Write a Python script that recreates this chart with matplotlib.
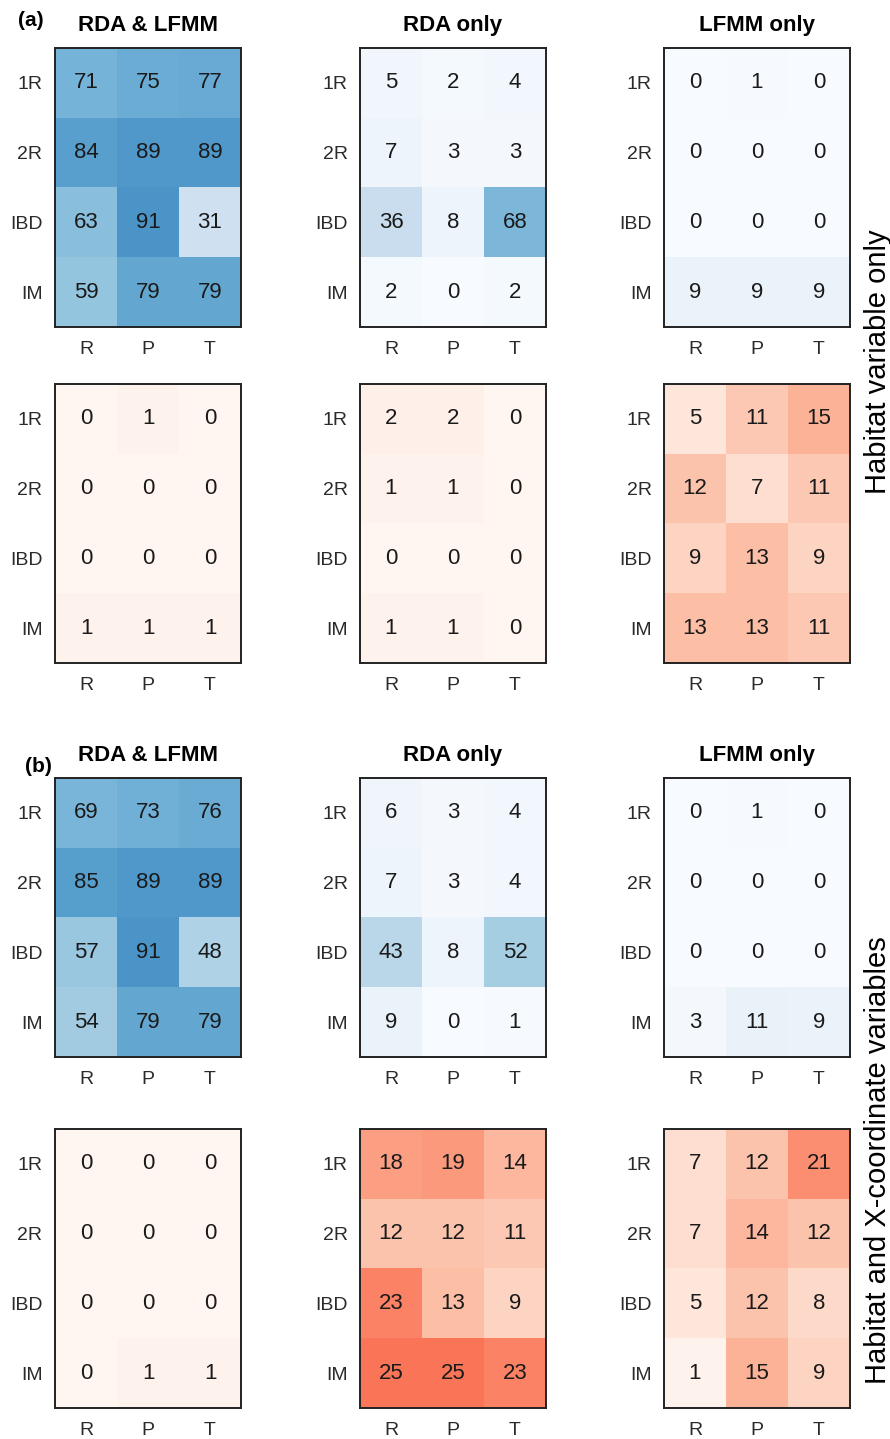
import matplotlib
matplotlib.use("Agg")
import matplotlib.pyplot as plt
import numpy as np

plt.rcParams['font.family'] = ['Liberation Sans', 'DejaVu Sans']

rows = ['1R', '2R', 'IBD', 'IM']
cols = ['R', 'P', 'T']
titles = ['RDA & LFMM', 'RDA only', 'LFMM only']

# (a) habitat variable only: true positives (blue) and false positives (red)
a_tp_both = [[71, 75, 77], [84, 89, 89], [63, 91, 31], [59, 79, 79]]
a_tp_rda = [[5, 2, 4], [7, 3, 3], [36, 8, 68], [2, 0, 2]]
a_tp_lfmm = [[0, 1, 0], [0, 0, 0], [0, 0, 0], [9, 9, 9]]
a_fp_both = [[0, 1, 0], [0, 0, 0], [0, 0, 0], [1, 1, 1]]
a_fp_rda = [[2, 2, 0], [1, 1, 0], [0, 0, 0], [1, 1, 0]]
a_fp_lfmm = [[5, 11, 15], [12, 7, 11], [9, 13, 9], [13, 13, 11]]

# (b) habitat and X-coordinate variables
b_tp_both = [[69, 73, 76], [85, 89, 89], [57, 91, 48], [54, 79, 79]]
b_tp_rda = [[6, 3, 4], [7, 3, 4], [43, 8, 52], [9, 0, 1]]
b_tp_lfmm = [[0, 1, 0], [0, 0, 0], [0, 0, 0], [3, 11, 9]]
b_fp_both = [[0, 0, 0], [0, 0, 0], [0, 0, 0], [0, 1, 1]]
b_fp_rda = [[18, 19, 14], [12, 12, 11], [23, 13, 9], [25, 25, 23]]
b_fp_lfmm = [[7, 12, 21], [7, 14, 12], [5, 12, 8], [1, 15, 9]]

grid = [
    [a_tp_both, a_tp_rda, a_tp_lfmm],
    [a_fp_both, a_fp_rda, a_fp_lfmm],
    [b_tp_both, b_tp_rda, b_tp_lfmm],
    [b_fp_both, b_fp_rda, b_fp_lfmm],
]

W, H = 890, 1439
fig = plt.figure(figsize=(W / 100, H / 100), dpi=100)

col_left = [55, 360, 664]
row_top = [48, 384, 778, 1129]
aw, ah = 186, 279

for r in range(4):
    blue = r % 2 == 0
    cmap = 'Blues' if blue else 'Reds'
    vmax = 140 if blue else 50
    for c in range(3):
        x0 = col_left[c]
        y0 = row_top[r]
        ax = fig.add_axes([x0 / W, 1 - (y0 + ah) / H, aw / W, ah / H])
        vals = np.array(grid[r][c])
        ax.imshow(vals, cmap=cmap, vmin=0, vmax=vmax, aspect='auto', alpha=0.92)
        for i in range(vals.shape[0]):
            for j in range(vals.shape[1]):
                ax.text(j, i, str(vals[i, j]), ha='center', va='center',
                        fontsize=16, color='#1a1a1a')
        ax.set_xticks(range(3))
        ax.set_xticklabels(cols)
        ax.set_yticks(range(4))
        ax.set_yticklabels(rows)
        ax.tick_params(length=0, labelsize=14, labelcolor='#2a2a2a')
        ax.tick_params(axis='x', pad=10)
        ax.tick_params(axis='y', pad=9)
        for s in ax.spines.values():
            s.set_linewidth(1.4)
            s.set_color('#222222')
        if r in (0, 2):
            ax.set_title(titles[c], fontsize=16, fontweight='bold', pad=12)

fig.text(18 / W, 1 - 20 / H, '(a)', fontsize=15, fontweight='bold', va='center', ha='left')
fig.text(25 / W, 1 - 766 / H, '(b)', fontsize=15, fontweight='bold', va='center', ha='left')

fig.text(878 / W, 1 - 362 / H, 'Habitat variable only', rotation=90,
         fontsize=21, ha='center', va='center')
fig.text(878 / W, 1 - 1160 / H, 'Habitat and X-coordinate variables', rotation=90,
         fontsize=21, ha='center', va='center')

fig.savefig('out.png', dpi=100)
